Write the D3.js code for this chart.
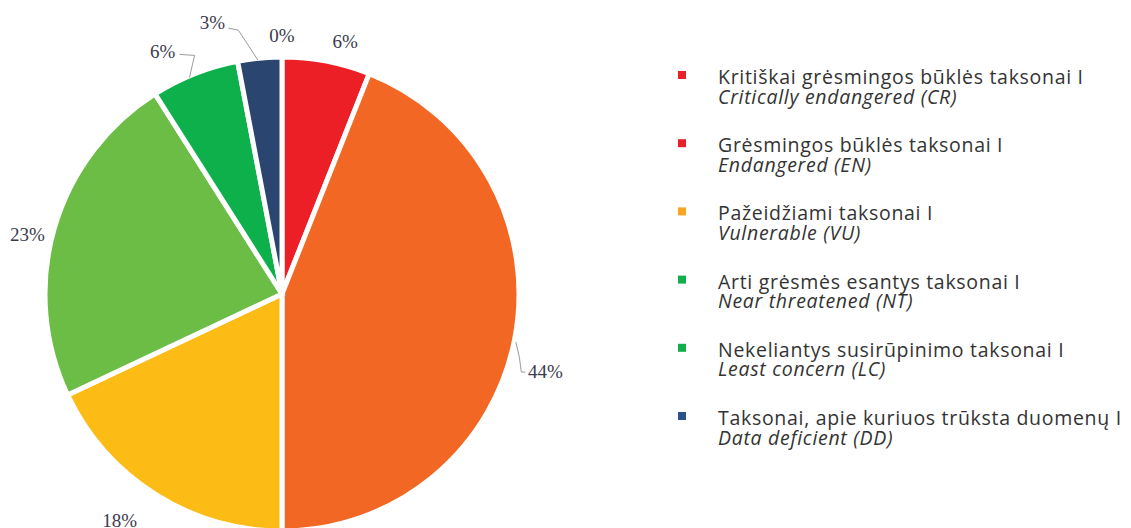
<!DOCTYPE html>
<html>
<head>
<meta charset="utf-8">
<script src="https://cdn.jsdelivr.net/npm/d3@7"></script>
<style>
  html, body { margin: 0; padding: 0; background: #fff; }
  svg { display: block; }
</style>
</head>
<body>
<svg id="chart" width="1131" height="528"></svg>
<script>
// Threat categories (slice order clockwise from 12 o'clock)
const categories = ["CR", "EN", "VU", "NT", "LC", "DD", "other"];
const shares = [6, 44, 18, 23, 6, 3, 0];
const sliceLabels = ["6%", "44%", "18%", "23%", "6%", "3%", "0%"];

// Legend entries
const legendLt = [
  "Kritiškai grėsmingos būklės taksonai I",
  "Grėsmingos būklės taksonai I",
  "Pažeidžiami taksonai I",
  "Arti grėsmės esantys taksonai I",
  "Nekeliantys susirūpinimo taksonai I",
  "Taksonai, apie kuriuos trūksta duomenų I"
];
const legendEn = [
  "Critically endangered (CR)",
  "Endangered (EN)",
  "Vulnerable (VU)",
  "Near threatened (NT)",
  "Least concern (LC)",
  "Data deficient (DD)"
];

const sliceColors = {
  CR: "#ec1f27", EN: "#f26724", VU: "#fdbb16", NT: "#6bbd46",
  LC: "#0db04b", DD: "url(#ddGrad)", other: "#cccccc"
};
const legendColors = ["#e8202a", "#e8202a", "#f8a524", "#14ad4b", "#14ad4b", "#2b508c"];

const svg = d3.select("#chart");
const cx = 282, cy = 294, R = 237;

// Radial gradient for the data-deficient slice: dark at the rim, pale at the centre
const defs = svg.append("defs");
const grad = defs.append("radialGradient")
  .attr("id", "ddGrad")
  .attr("gradientUnits", "userSpaceOnUse")
  .attr("cx", cx).attr("cy", cy).attr("r", R);
grad.append("stop").attr("offset", "0%").attr("stop-color", "#a6c6ee");
grad.append("stop").attr("offset", "50%").attr("stop-color", "#5f87bd");
grad.append("stop").attr("offset", "100%").attr("stop-color", "#2a4570");

const pie = d3.pie().sort(null).value(d => d.v).startAngle(0).endAngle(2 * Math.PI);
const data = categories.map((c, i) => ({ c, v: shares[i], label: sliceLabels[i] }));
const arcs = pie(data);

const arc = d3.arc().innerRadius(0).outerRadius(R);
const g = svg.append("g").attr("transform", `translate(${cx},${cy})`);

g.selectAll("path.slice")
  .data(arcs.filter(a => a.data.v > 0))
  .join("path")
  .attr("class", "slice")
  .attr("d", arc)
  .attr("fill", d => sliceColors[d.data.c])
  .attr("stroke", "#fff")
  .attr("stroke-width", 5)
  .attr("stroke-linejoin", "miter");

// Label placement: outside the rim along the slice's mid angle, then nudged
const labelArc = d3.arc().innerRadius(R + 25).outerRadius(R + 25);
const labelNudge = [[14, 5], [6, 28], [-22, 5], [-3, 14], [-23, 1], [-45, -11], [0, 3]];

const labels = g.selectAll("g.lbl")
  .data(arcs)
  .join("g")
  .attr("class", "lbl");

labels.append("text")
  .attr("x", (d, i) => labelArc.centroid(d)[0] + labelNudge[i][0])
  .attr("y", (d, i) => labelArc.centroid(d)[1] + labelNudge[i][1])
  .attr("text-anchor", "middle")
  .attr("dominant-baseline", "central")
  .attr("font-family", "'Liberation Serif', 'DejaVu Serif', serif")
  .attr("font-size", 19)
  .attr("fill", "#3b3b4c")
  .text(d => d.data.label);

// Leader lines for the labels pushed away from their slices
function leader(i, pts) {
  const d = arcs[i];
  const lp = labelArc.centroid(d);
  const ex = lp[0] + labelNudge[i][0], ey = lp[1] + labelNudge[i][1];
  const rim = d3.arc().innerRadius(R - 2).outerRadius(R - 2).centroid(d);
  g.append("path")
    .attr("d", d3.line()(pts(ex, ey, rim)))
    .attr("fill", "none")
    .attr("stroke", "#9a9aa2")
    .attr("stroke-width", 1);
}
leader(5, (ex, ey, rim) => [[ex + 16, ey + 6], [ex + 26, ey + 8], [rim[0] - 2, rim[1]]]);
leader(4, (ex, ey, rim) => [[ex + 17, ey + 3], [ex + 32, ey + 4], [rim[0] - 6, rim[1] + 2]]);
leader(1, (ex, ey, rim) => [[rim[0] + 3, rim[1] + 4], [ex - 26, ey - 14], [ex - 24, ey + 1], [ex - 20, ey + 1]]);

// Legend
const lg = svg.append("g").attr("transform", "translate(678,84)");
const rows = lg.selectAll("g.row")
  .data(legendLt)
  .join("g")
  .attr("class", "row")
  .attr("transform", (d, i) => `translate(0,${i * 68.2})`);

rows.append("rect")
  .attr("x", 0).attr("y", -13)
  .attr("width", 8).attr("height", 8)
  .attr("fill", (d, i) => legendColors[i]);

rows.append("text")
  .attr("x", 40).attr("y", 0)
  .attr("font-family", "'Open Sans', 'Noto Sans', sans-serif")
  .attr("font-size", 19.5)
  .attr("letter-spacing", 0.7)
  .attr("fill", "#333")
  .text(d => d);

rows.append("text")
  .attr("x", 40).attr("y", 19.5)
  .attr("font-family", "'Open Sans', 'Noto Sans', sans-serif")
  .attr("font-size", 19.5)
  .attr("letter-spacing", 0.7)
  .attr("font-style", "italic")
  .attr("fill", "#333")
  .text((d, i) => legendEn[i]);
</script>
</body>
</html>
